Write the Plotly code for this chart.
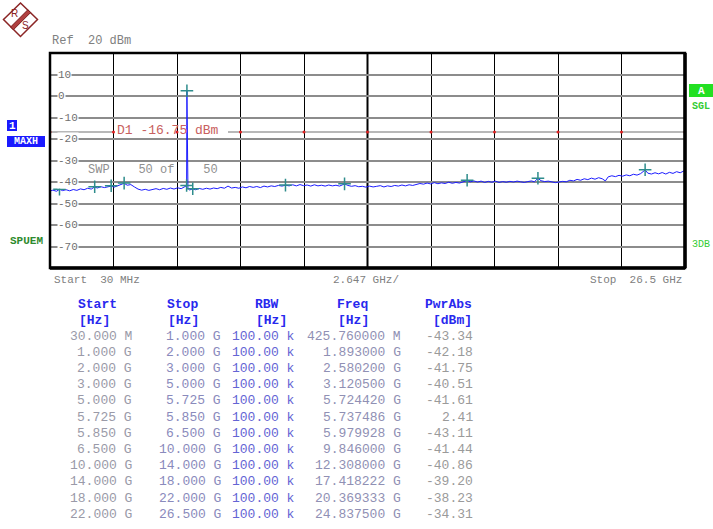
import plotly.graph_objects as go

# ---------------- data ----------------
start_ghz = 0.03
stop_ghz = 26.5
ref_level = 20
bottom_level = -80
d1_level = -16.75

trace_freq = [0.03, 0.15, 0.30, 0.43, 0.55, 0.70, 0.85, 1.00, 1.15, 1.30, 1.45, 1.60, 1.75, 1.89, 2.00,
              2.15, 2.30, 2.45, 2.58, 2.70, 2.85, 3.00, 3.12, 3.25, 3.40, 3.55, 3.70, 3.85, 4.00, 4.15,
              4.30, 4.45, 4.60, 4.75, 4.90, 5.05, 5.20, 5.35, 5.50, 5.62, 5.7244, 5.7375, 5.745, 5.752,
              5.765, 5.78, 5.85, 5.98, 6.10, 6.25, 6.40, 6.55, 6.70, 6.85, 7.00, 7.15, 7.30, 7.45, 7.60,
              7.75, 7.90, 8.05, 8.20, 8.35, 8.50, 8.65, 8.80, 8.95, 9.10, 9.25, 9.40, 9.55, 9.70, 9.846,
              10.00, 10.15, 10.30, 10.45, 10.60, 10.75, 10.90, 11.05, 11.20, 11.35, 11.50, 11.65, 11.80,
              11.95, 12.10, 12.308, 12.45, 12.60, 12.75, 12.90, 13.05, 13.20, 13.35, 13.50, 13.65, 13.80,
              13.95, 14.10, 14.25, 14.40, 14.55, 14.70, 14.85, 15.00, 15.15, 15.30, 15.45, 15.60, 15.75,
              15.90, 16.05, 16.20, 16.35, 16.50, 16.65, 16.80, 16.95, 17.10, 17.25, 17.418, 17.55, 17.70,
              17.85, 18.00, 18.15, 18.30, 18.45, 18.60, 18.75, 18.90, 19.05, 19.20, 19.35, 19.50, 19.65,
              19.80, 19.95, 20.10, 20.22, 20.369, 20.50, 20.65, 20.80, 20.95, 21.10, 21.25, 21.40, 21.55,
              21.70, 21.85, 22.00, 22.15, 22.30, 22.45, 22.60, 22.75, 22.90, 23.05, 23.18, 23.30, 23.45,
              23.60, 23.75, 23.90, 24.05, 24.20, 24.35, 24.50, 24.65, 24.8375, 24.95, 25.10, 25.25, 25.40,
              25.55, 25.70, 25.85, 26.00, 26.15, 26.30, 26.42, 26.50]
trace_dbm = [-44.2, -43.8, -44.3, -43.4, -44.0, -43.6, -44.1, -43.5, -43.9, -43.2, -43.6, -42.9, -43.3, -42.3, -42.8,
             -42.2, -42.6, -42.1, -41.9, -42.4, -41.8, -41.4, -40.6, -41.5, -41.2, -42.3, -43.3, -43.8, -43.4, -43.9,
             -43.5, -43.1, -43.6, -43.0, -43.4, -42.8, -43.3, -42.7, -43.1, -42.4, -41.7, 2.41, -19.0, -42.8,
             -19.6, -43.0, -43.7, -43.2, -43.6, -43.0, -43.4, -42.9, -43.3, -42.8, -43.1, -42.5, -42.9, -41.9, -42.8,
             -42.5, -42.9, -42.3, -42.7, -42.1, -42.5, -42.1, -42.6, -41.9, -42.3, -41.8, -42.1, -41.6, -41.9, -41.5,
             -41.8, -41.3, -41.8, -41.2, -41.7, -41.4, -41.9, -41.3, -41.8, -41.5, -41.9, -41.4, -41.8,
             -41.5, -41.9, -40.9, -41.6, -42.0, -41.7, -42.2, -42.0, -42.4, -41.9, -42.3, -42.0, -41.7,
             -42.3, -41.8, -42.1, -41.6, -41.9, -41.4, -41.8, -41.3, -41.6, -41.0, -40.7, -41.0, -40.5,
             -40.9, -40.3, -40.8, -40.4, -40.7, -40.1, -40.6, -40.2, -40.5, -39.9, -39.3, -39.9, -39.5,
             -40.0, -39.6, -40.2, -39.7, -40.1, -39.6, -40.2, -39.8, -40.1, -39.7, -40.0, -39.6, -39.9,
             -40.2, -39.8, -39.5, -39.9, -38.3, -39.4, -39.8, -39.6, -40.1, -40.3, -40.0, -39.7, -39.9,
             -39.2, -39.5, -38.8, -39.2, -38.5, -38.9, -38.2, -38.7, -38.0, -38.5, -39.5, -37.6, -37.1,
             -37.5, -36.9, -37.3, -36.7, -37.1, -36.4, -36.8, -36.1, -34.4, -35.9, -36.3, -35.7, -36.2,
             -35.6, -36.3, -35.5, -36.0, -35.2, -35.7, -34.9, -34.6]

range_start_ghz = [0.03, 1.0, 2.0, 3.0, 5.0, 5.725, 5.85, 6.5, 10.0, 14.0, 18.0, 22.0]
range_stop_ghz = [1.0, 2.0, 3.0, 5.0, 5.725, 5.85, 6.5, 10.0, 14.0, 18.0, 22.0, 26.5]
rbw_labels = ["100.00 k"] * 12
peak_freq_ghz = [0.42576, 1.893, 2.5802, 3.1205, 5.72442, 5.737486, 5.979928, 9.846, 12.308,
                 17.418222, 20.369333, 24.8375]
peak_dbm = [-43.34, -42.18, -41.75, -40.51, -41.61, 2.41, -43.11, -41.44, -40.86, -39.20, -38.23, -34.31]

ytick_vals = [10, 0, -10, -20, -30, -40, -50, -60, -70]
table_headers = ["Start", "Stop", "RBW", "Freq", "PwrAbs"]
table_units = ["[Hz]", "[Hz]", "[Hz]", "[Hz]", "[dBm]"]

# ---------------- helpers ----------------
W, H = 713, 529
L, R, T, B = 50, 685, 53, 268
MONO = "Liberation Mono, Courier New, monospace"
NB = "\u00a0"


def px(x):
    return (x - L) / (R - L)


def py(y):
    return (B - y) / (B - T)


def fmt_hz(v, dec):
    if v < 1:
        return f"{v * 1000:.{dec}f} M"
    return f"{v:.{dec}f} G"


annotations = []


def ann(text, x, y, xanchor="left", size=12, color="#808080", bold=False, bg=None, family=MONO):
    a = dict(text=(f"<b>{text}</b>" if bold else text), x=px(x), y=py(y), xref="paper", yref="paper",
             xanchor=xanchor, yanchor="middle", showarrow=False,
             font=dict(family=family, size=size, color=color), borderpad=0)
    if bg:
        a["bgcolor"] = bg
    annotations.append(a)


fig = go.Figure()

div = (stop_ghz - start_ghz) / 10
grid_x = [start_ghz + k * div for k in range(11)]

fig.add_trace(go.Scatter(x=trace_freq, y=trace_dbm, mode="lines",
                         line=dict(color="#1c1cff", width=1), hoverinfo="skip"))
fig.add_trace(go.Scatter(x=peak_freq_ghz, y=peak_dbm, mode="markers",
                         marker=dict(symbol="cross-thin", size=9, color="#2e8c8c",
                                     line=dict(color="#2e8c8c", width=1.5)), hoverinfo="skip"))
fig.add_trace(go.Scatter(x=grid_x, y=[d1_level] * len(grid_x), mode="markers",
                         marker=dict(size=3, color="#e02020"), hoverinfo="skip"))

shapes = []
shapes.append(dict(type="line", xref="paper", yref="y", x0=0, x1=px(114), y0=d1_level, y1=d1_level,
                   line=dict(color="#a0a0a0", width=1.5), layer="below"))
shapes.append(dict(type="line", xref="paper", yref="y", x0=px(228), x1=1, y0=d1_level, y1=d1_level,
                   line=dict(color="#a0a0a0", width=1.5), layer="below"))
mid = (start_ghz + stop_ghz) / 2
shapes.append(dict(type="line", xref="x", yref="paper", x0=mid, x1=mid, y0=0, y1=1,
                   line=dict(color="black", width=2), layer="below"))
shapes.append(dict(type="rect", xref="paper", yref="paper", x0=0, x1=1, y0=0, y1=1,
                   line=dict(color="black", width=2.5)))
shapes.append(dict(type="line", xref="paper", yref="paper", x0=1, x1=1, y0=0, y1=1,
                   line=dict(color="black", width=3.5)))
shapes.append(dict(type="line", xref="paper", yref="paper", x0=0, x1=1, y0=0, y1=0,
                   line=dict(color="black", width=3.5)))


def path(pts):
    return "M " + " L ".join(f"{px(a):.5f},{py(b):.5f}" for a, b in pts) + " Z"


shapes.append(dict(type="path", xref="paper", yref="paper",
                   path=path([(20.5, 3), (37.5, 19.5), (20.5, 36.5), (3.5, 19.5)]),
                   line=dict(color="#8b2525", width=1.5), fillcolor="white"))
shapes.append(dict(type="path", xref="paper", yref="paper",
                   path=path([(10.6, 27.0), (27.8, 9.8), (30.6, 12.6), (13.4, 29.8)]),
                   line=dict(color="#7a1e1e", width=1), fillcolor="#b04040"))
ann("R", 14.5, 13.5, "center", 10, "#8b2525", family="Liberation Sans")
ann("S", 25.5, 25.5, "center", 10, "#8b2525", family="Liberation Sans")

shapes.append(dict(type="rect", xref="paper", yref="paper", x0=px(7), x1=px(17), y0=py(131), y1=py(120),
                   line=dict(width=0), fillcolor="#1a1aff"))
shapes.append(dict(type="rect", xref="paper", yref="paper", x0=px(7), x1=px(45), y0=py(147), y1=py(136),
                   line=dict(width=0), fillcolor="#1a1aff"))
ann("1", 12, 125.5, "center", 11, "white", bold=True)
ann("MAXH", 26, 141.5, "center", 10, "white", bold=True)
ann("SPUEM", 26.5, 241, "center", 11, "#2e8b2e", bold=True)

shapes.append(dict(type="rect", xref="paper", yref="paper", x0=px(689), x1=px(713), y0=py(97), y1=py(84),
                   line=dict(width=0), fillcolor="#22e022"))
ann("A", 701, 90.5, "center", 11, "white", bold=True)
ann("SGL", 701, 106, "center", 10, "#33cc33", bold=True)
ann("3DB", 701, 244.5, "center", 10, "#33cc33")

ann(f"Ref{NB}{NB}20{NB}dBm", 51, 41, "left", 12, "#808080")
ann(f"Start{NB}{NB}30{NB}MHz", 53, 279.5, "left", 11, "#808080")
ann(f"{div:.3f}{NB}GHz/", 366, 279.5, "center", 11, "#808080")
ann(f"Stop{NB}{NB}26.5{NB}GHz", 683, 279.5, "right", 11, "#808080")

for v in ytick_vals:
    annotations.append(dict(text=str(v), x=px(57), y=v, xref="paper", yref="y", xanchor="left",
                            yanchor="middle", showarrow=False, bgcolor="white", borderpad=0,
                            font=dict(family=MONO, size=11, color="#707070")))

ann(f"SWP{NB * 4}50{NB}of{NB * 4}50", 87, 170, "left", 12, "#909090")
ann(f"D1{NB}-16.75{NB}dBm", 116, 130.5, "left", 13, "#c86060")

hdr_x = [(77, "left"), (166, "left"), (254, "left"), (336, "left"), (473, "right")]
for (x, anc), h, u in zip(hdr_x, table_headers, table_units):
    ann(h, x, 304, anc, 13, "#2828ee", bold=True)
    ux = x + (1 if anc == "left" else 0)
    ann(u, ux, 320, anc, 13, "#2828ee", bold=True)

row_y0, row_dy = 336, 16.2
for i in range(len(range_start_ghz)):
    y = row_y0 + i * row_dy
    ann(fmt_hz(range_start_ghz[i], 3).replace(" ", NB), 133, y, "right", 13, "#9a9aa8")
    ann(fmt_hz(range_stop_ghz[i], 3).replace(" ", NB), 222, y, "right", 13, "#8a8abc")
    ann(rbw_labels[i].replace(" ", NB), 296, y, "right", 13, "#6464d4")
    ann(fmt_hz(peak_freq_ghz[i], 6).replace(" ", NB), 402, y, "right", 13, "#9090b4")
    ann(f"{peak_dbm[i]:.2f}", 474, y, "right", 13, "#9a9a9a")

fig.update_layout(
    width=W, height=H,
    margin=dict(l=L, r=W - R, t=T, b=H - B, pad=0),
    paper_bgcolor="white", plot_bgcolor="white",
    showlegend=False,
    xaxis=dict(range=[start_ghz, stop_ghz], showticklabels=False, ticks="", zeroline=False,
               showgrid=True, gridcolor="black", gridwidth=1, tick0=start_ghz, dtick=div,
               showline=False, fixedrange=True),
    yaxis=dict(range=[bottom_level, ref_level], showticklabels=False, ticks="", zeroline=False,
               showgrid=True, gridcolor="#8c8c8c", gridwidth=2, tick0=0, dtick=10,
               showline=False, fixedrange=True),
    shapes=shapes,
    annotations=annotations,
)

fig.write_html("out.html", config={"displayModeBar": False},
               post_script="document.body.style.margin='0';document.body.style.overflow='hidden';")
